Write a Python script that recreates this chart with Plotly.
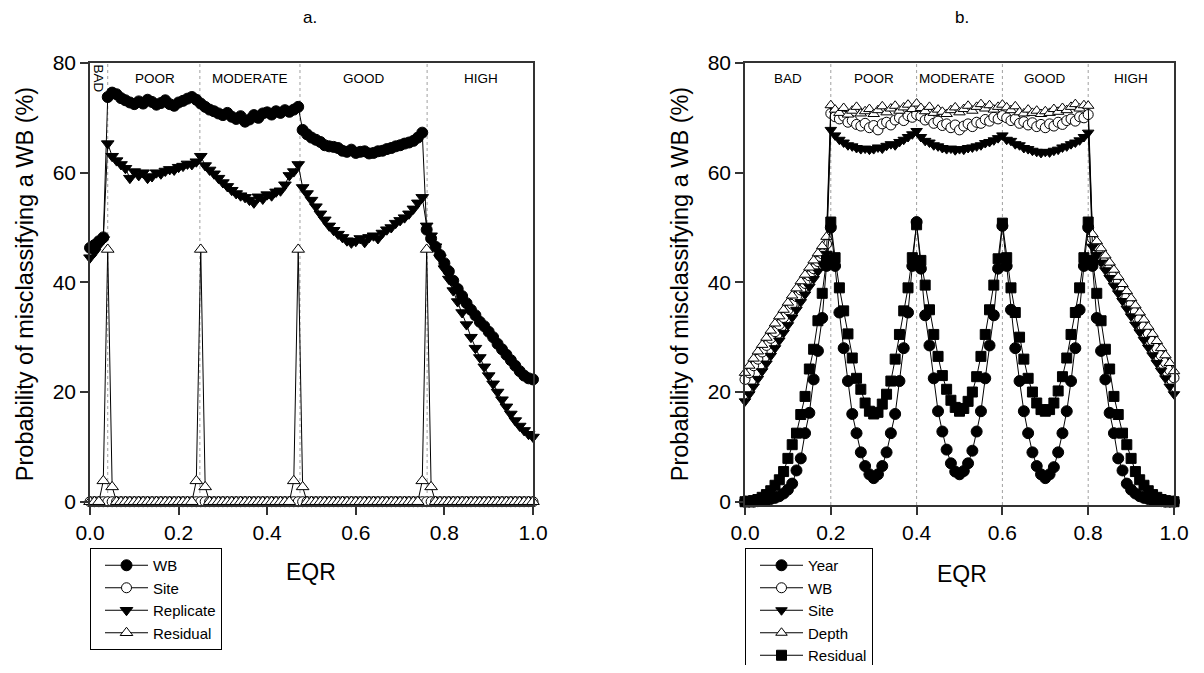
import plotly.graph_objects as go

# ---------------- data ----------------
eqr = [0.00, 0.01, 0.02, 0.03, 0.04, 0.05, 0.06, 0.07, 0.08, 0.09,
       0.10, 0.11, 0.12, 0.13, 0.14, 0.15, 0.16, 0.17, 0.18, 0.19,
       0.20, 0.21, 0.22, 0.23, 0.24, 0.25, 0.26, 0.27, 0.28, 0.29,
       0.30, 0.31, 0.32, 0.33, 0.34, 0.35, 0.36, 0.37, 0.38, 0.39,
       0.40, 0.41, 0.42, 0.43, 0.44, 0.45, 0.46, 0.47, 0.48, 0.49,
       0.50, 0.51, 0.52, 0.53, 0.54, 0.55, 0.56, 0.57, 0.58, 0.59,
       0.60, 0.61, 0.62, 0.63, 0.64, 0.65, 0.66, 0.67, 0.68, 0.69,
       0.70, 0.71, 0.72, 0.73, 0.74, 0.75, 0.76, 0.77, 0.78, 0.79,
       0.80, 0.81, 0.82, 0.83, 0.84, 0.85, 0.86, 0.87, 0.88, 0.89,
       0.90, 0.91, 0.92, 0.93, 0.94, 0.95, 0.96, 0.97, 0.98, 0.99, 1.00]

# Panel a
a_wb = [46.3, 46.8, 47.5, 48.2,
        73.8, 74.6, 74.3, 73.6, 73.2, 72.8, 72.5, 73.0, 72.6, 73.3, 72.9, 72.4, 72.7, 73.2, 72.5, 72.2, 72.8, 73.1, 73.5, 73.8, 73.3,
        72.6, 72.0, 71.5, 71.2, 70.8, 70.5, 70.9, 70.2, 69.8, 70.3, 69.3, 69.7, 70.5, 70.0, 70.8, 71.0, 70.6, 71.2, 70.9, 71.4, 71.1, 71.5, 72.0,
        67.8, 67.0, 66.4, 66.0, 65.6, 65.0, 64.8, 64.7, 64.5, 64.0, 63.8, 64.2, 63.6, 63.8, 63.9, 63.5, 63.6, 63.9, 64.0, 64.3, 64.5, 64.8, 65.0, 65.3, 65.5, 65.8, 66.4, 67.3,
        49.6, 48.0, 46.5, 45.0, 43.5, 42.0, 40.3, 38.8, 37.5, 36.2, 35.0, 34.0, 32.8, 32.0, 31.0, 30.0, 28.8, 27.8, 26.8, 25.8, 24.8, 23.8, 23.0, 22.5, 22.3]
a_site = [0, 0, 0, 0, 0, 0, 0, 0, 0, 0, 0, 0, 0, 0, 0, 0, 0, 0, 0, 0,
          0, 0, 0, 0, 0, 0, 0, 0, 0, 0, 0, 0, 0, 0, 0, 0, 0, 0, 0, 0,
          0, 0, 0, 0, 0, 0, 0, 0, 0, 0, 0, 0, 0, 0, 0, 0, 0, 0, 0, 0,
          0, 0, 0, 0, 0, 0, 0, 0, 0, 0, 0, 0, 0, 0, 0, 0, 0, 0, 0, 0,
          0, 0, 0, 0, 0, 0, 0, 0, 0, 0, 0, 0, 0, 0, 0, 0, 0, 0, 0, 0, 0]
a_replicate = [44.5, 45.5, 46.8, 47.8,
               65.3, 63.0, 62.2, 61.5, 60.8, 59.0, 60.2, 59.5, 60.0, 59.0, 59.3, 60.0, 59.8, 60.3, 60.6, 60.5, 61.0, 61.2, 61.6, 61.5, 62.0, 63.0,
               61.3, 60.5, 59.8, 59.0, 58.2, 57.5, 56.8, 56.2, 55.8, 55.5, 55.0, 54.5, 55.6, 55.2, 56.0, 55.8, 56.5, 56.7, 57.8, 59.5, 60.2, 61.5,
               57.3, 56.2, 55.0, 53.8, 52.5, 51.4, 50.3, 49.5, 48.8, 48.2, 47.6, 47.2, 47.5, 48.0, 47.3, 48.2, 48.5, 48.0, 49.0, 49.6, 50.0, 50.8, 51.3, 51.8, 52.5, 53.4, 54.5, 55.5,
               50.3, 48.5, 46.5, 44.5, 42.5, 40.6, 38.5, 36.5, 34.5, 32.3, 30.0, 28.0, 26.3, 24.6, 23.0, 21.5, 20.0, 18.6, 17.3, 16.0, 14.8, 13.8, 13.0, 12.3, 11.8]
a_residual = [0, 0, 0, 3.8, 46.0, 2.7, 0, 0, 0, 0, 0, 0, 0, 0, 0, 0, 0, 0, 0, 0,
              0, 0, 0, 0, 3.8, 46.0, 2.7, 0, 0, 0, 0, 0, 0, 0, 0, 0, 0, 0, 0, 0,
              0, 0, 0, 0, 0, 0, 3.8, 46.0, 2.7, 0, 0, 0, 0, 0, 0, 0, 0, 0, 0, 0,
              0, 0, 0, 0, 0, 0, 0, 0, 0, 0, 0, 0, 0, 0, 0, 3.8, 46.0, 2.7, 0, 0,
              0, 0, 0, 0, 0, 0, 0, 0, 0, 0, 0, 0, 0, 0, 0, 0, 0, 0, 0, 0, 0]
a_bounds = [0.04, 0.248, 0.474, 0.761]
a_classes = ["BAD", "POOR", "MODERATE", "GOOD", "HIGH"]
a_class_x = [0.019, 0.146, 0.362, 0.619, 0.882]

# Panel b
b_year = [0.0, 0.0, 0.0, 0.1, 0.2, 0.3, 0.5, 0.7, 1.0, 1.5, 2.2, 3.3, 5.7, 7.9, 12.5, 16.2, 22.3, 27.5, 33.5, 43.0,
          50.0,
          43.0, 34.5, 28.0, 22.0, 16.0, 12.5, 9.0, 6.5, 5.0, 4.3, 5.0, 6.5, 9.0, 12.5, 16.0, 22.0, 28.0, 34.5, 43.0,
          51.0,
          42.5, 34.0, 28.5, 22.5, 16.5, 12.8, 9.5, 7.0, 5.5, 5.0, 5.6, 7.0, 9.3, 12.8, 16.5, 22.5, 28.5, 34.0, 42.5,
          50.3,
          43.0, 35.0, 28.0, 22.0, 16.5, 12.5, 9.0, 6.5, 5.0, 4.3, 5.0, 6.3, 9.0, 12.5, 16.5, 22.0, 28.0, 35.0, 43.0,
          50.0,
          43.0, 33.5, 27.5, 22.3, 16.2, 12.5, 7.9, 5.7, 3.3, 2.2, 1.5, 1.0, 0.7, 0.5, 0.3, 0.2, 0.1, 0.0, 0.0, 0.0]
b_wb = [22.3, 23.5, 24.8, 26.0, 27.3, 28.5, 29.8, 31.0, 32.3, 33.6, 35.0, 36.0, 37.4, 38.6, 39.8, 41.2, 42.5, 43.8, 45.2, 47.0,
        70.8, 70.2, 69.8, 70.3, 69.2, 69.5, 68.8, 68.5, 69.0, 68.2, 68.6, 67.8, 68.9, 69.2, 68.7, 69.6, 70.0, 69.5, 70.4, 70.1, 70.6,
        70.3, 69.6, 69.9, 69.0, 69.4, 68.6, 68.9, 68.2, 68.7, 67.8, 68.5, 68.9, 68.4, 69.2, 69.0, 69.7, 69.4, 70.1, 69.8, 70.4,
        70.0, 69.5, 69.8, 69.0, 69.3, 68.7, 69.1, 68.4, 68.8, 68.2, 68.9, 68.5, 69.2, 68.8, 69.5, 69.8, 69.4, 70.2, 70.0, 70.6,
        48.0, 46.6, 45.3, 44.0, 42.6, 41.3, 40.0, 38.6, 37.3, 36.0, 34.6, 33.3, 32.0, 30.7, 29.3, 28.0, 26.7, 25.4, 24.0, 22.6]
b_site = [18.3, 19.6, 21.0, 22.4, 23.8, 25.2, 26.6, 28.0, 29.4, 30.8, 32.2, 33.6, 35.0, 36.4, 37.8, 39.2, 40.6, 42.0, 43.4, 45.2,
          67.8, 66.8, 66.0, 65.5, 65.0, 64.8, 64.5, 64.3, 64.4, 64.2, 64.3, 64.6, 64.4, 64.9, 65.2, 65.0, 65.6, 66.0, 66.5, 67.0, 67.6,
          66.5, 65.8, 65.5, 65.0, 64.8, 64.5, 64.3, 64.4, 64.1, 64.3, 64.2, 64.5, 64.6, 64.8, 65.0, 65.4, 65.6, 65.9, 66.3, 66.8,
          66.0, 65.8, 65.2, 65.0, 64.5, 64.3, 64.0, 63.8, 63.6, 63.8, 63.7, 64.0, 64.2, 64.6, 64.8, 65.2, 65.5, 65.9, 66.5, 67.3,
          46.5, 45.0, 43.6, 42.2, 40.8, 39.4, 38.0, 36.6, 35.2, 33.8, 32.3, 30.9, 29.5, 28.1, 26.7, 25.3, 23.9, 22.5, 21.0, 19.6]
b_depth = [23.5, 24.8, 26.1, 27.4, 28.6, 29.9, 31.2, 32.5, 33.8, 35.0, 36.3, 37.6, 38.9, 40.2, 41.4, 42.7, 44.0, 45.3, 46.6, 48.3,
           72.3, 71.5, 70.9, 71.8, 70.6, 71.3, 72.0, 70.8, 71.2, 71.6, 70.7, 71.4, 72.1, 71.0, 71.7, 72.2, 71.3, 71.9, 72.4, 71.6, 72.6,
           71.8, 71.2, 72.0, 70.9, 71.5, 71.1, 70.7, 71.4, 71.9, 71.0, 71.6, 72.2, 71.3, 72.0, 72.5, 71.7, 72.3, 71.5, 72.0, 72.4,
           71.9, 71.4, 72.1, 71.0, 70.8, 71.5, 70.9, 71.3, 70.7, 71.2, 70.9, 71.6, 71.1, 71.8, 71.4, 72.0, 72.5, 71.7, 72.3, 72.2,
           48.8, 47.5, 46.2, 44.9, 43.6, 42.3, 41.0, 39.7, 38.4, 37.1, 35.8, 34.5, 33.2, 31.9, 30.6, 29.3, 28.0, 26.7, 25.3, 23.8]
b_residual = [0.0, 0.1, 0.2, 0.4, 0.8, 1.3, 2.0, 3.0, 4.0, 5.5, 7.9, 10.4, 12.5, 15.9, 19.2, 24.2, 27.8, 33.0, 38.0, 44.0,
              51.0,
              44.5, 39.0, 34.8, 30.6, 26.2, 22.5, 20.5, 18.0, 16.5, 16.0, 16.3, 17.8, 19.6, 22.0, 26.0, 30.5, 34.8, 39.0, 44.5,
              50.5,
              44.0, 39.5, 35.0, 30.5, 26.5, 23.0, 20.5, 18.5, 17.2, 16.5, 17.0, 18.3, 20.0, 22.8, 26.5, 30.5, 35.0, 39.5, 44.3,
              50.8,
              44.5, 39.0, 34.5, 30.0, 26.0, 22.5, 20.0, 18.0, 16.8, 16.5, 16.8, 18.0, 20.2, 22.8, 26.2, 30.5, 34.5, 39.0, 44.5,
              51.0,
              44.0, 38.0, 33.0, 27.8, 24.2, 19.2, 15.9, 12.5, 10.4, 7.9, 5.5, 4.0, 3.0, 2.0, 1.3, 0.8, 0.4, 0.2, 0.1, 0.0]
b_bounds = [0.2, 0.4, 0.6, 0.8]
b_classes = ["BAD", "POOR", "MODERATE", "GOOD", "HIGH"]
b_class_x = [0.10, 0.30, 0.495, 0.70, 0.90]

x_ticks = [0.0, 0.2, 0.4, 0.6, 0.8, 1.0]
x_ticktext = ["0.0", "0.2", "0.4", "0.6", "0.8", "1.0"]
y_ticks = [0, 20, 40, 60, 80]
x_title = "EQR"
y_title = "Probability of misclassifying a WB (%)"

# ---------------- figure ----------------
FONT = "Liberation Sans, Arial, sans-serif"
OFF = 8                   # page body offset (px)
W, H = 1182, 657
ML, MT, PH = 90 - OFF, 63 - OFF, 442
PLOT_RIGHT = 1174 - OFF
MR = W - PLOT_RIGHT
PW = PLOT_RIGHT - ML
MB = H - MT - PH


def px_x(sx):
    """screen x (px) -> paper fraction of the plotting area"""
    return (sx - OFF - ML) / PW


def px_y(sy):
    """screen y (px) -> paper fraction of the plotting area"""
    return (MT + PH - (sy - OFF)) / PH


def cont_y(sy):
    """screen y (px) -> fraction of the whole figure height"""
    return 1 - (sy - OFF) / H


fig = go.Figure()


def add(x, y, name, symbol, filled, size, xa, ya, legend):
    fig.add_trace(go.Scatter(
        x=x, y=y, name=name, mode="lines+markers",
        line=dict(color="black", width=1),
        marker=dict(symbol=symbol, size=size,
                    color="black" if filled else "white",
                    line=dict(color="black", width=1)),
        xaxis=xa, yaxis=ya, legend=legend, cliponaxis=False))


add(eqr, a_wb, "WB", "circle", True, 11, "x", "y", "legend")
add(eqr, a_site, "Site", "circle", False, 10, "x", "y", "legend")
add(eqr, a_replicate, "Replicate", "triangle-down", True, 11, "x", "y", "legend")
add(eqr, a_residual, "Residual", "triangle-up", False, 11, "x", "y", "legend")

add(eqr, b_year, "Year", "circle", True, 11, "x2", "y2", "legend2")
add(eqr, b_wb, "WB", "circle", False, 10, "x2", "y2", "legend2")
add(eqr, b_site, "Site", "triangle-down", True, 10, "x2", "y2", "legend2")
add(eqr, b_depth, "Depth", "triangle-up", False, 10, "x2", "y2", "legend2")
add(eqr, b_residual, "Residual", "square", True, 10, "x2", "y2", "legend2")

shapes = []
for b in a_bounds:
    shapes.append(dict(type="line", xref="x", yref="y domain", x0=b, x1=b, y0=0, y1=1,
                       line=dict(color="#a0a0a0", width=1, dash="dot"), layer="below"))
for b in b_bounds:
    shapes.append(dict(type="line", xref="x2", yref="y2 domain", x0=b, x1=b, y0=0, y1=1,
                       line=dict(color="#a0a0a0", width=1, dash="dot"), layer="below"))

annotations = []
for name, cx in zip(a_classes, a_class_x):
    annotations.append(dict(xref="x", yref="y", x=cx, y=77.1, text=name, showarrow=False,
                            xanchor="center", yanchor="middle",
                            textangle=90 if name == "BAD" else 0,
                            font=dict(family=FONT, size=13.5, color="black")))
for name, cx in zip(b_classes, b_class_x):
    annotations.append(dict(xref="x2", yref="y2", x=cx, y=77.1, text=name, showarrow=False,
                            xanchor="center", yanchor="middle",
                            font=dict(family=FONT, size=13.5, color="black")))


def label(sx, sy, text, size):
    annotations.append(dict(xref="paper", yref="paper", x=px_x(sx), y=px_y(sy),
                            xanchor="center", yanchor="middle",
                            text=text, showarrow=False,
                            font=dict(family=FONT, size=size, color="black")))


label(310, 18, "a.", 17)
label(962, 18, "b.", 17)
# x-axis titles
label(311, 572, x_title, 23)
label(962, 574, x_title, 23)

axis_common = dict(showline=True, mirror=True, linecolor="#333333", linewidth=1.5,
                   ticks="outside", ticklen=8, tickwidth=1.5, tickcolor="#333333",
                   showgrid=False, zeroline=False, automargin=False,
                   tickfont=dict(family=FONT, size=21, color="black"))

xa = dict(axis_common, range=[0, 1], tickvals=x_ticks, ticktext=x_ticktext)
ya = dict(axis_common, range=[-0.6, 80], tickvals=y_ticks,
          title=dict(text=y_title, font=dict(family=FONT, size=23.5, color="black"), standoff=12))

legend_common = dict(bgcolor="white", bordercolor="black", borderwidth=1,
                     font=dict(family=FONT, size=15, color="black"),
                     xanchor="left", yanchor="top", itemwidth=43, indentation=9,
                     tracegroupgap=0, xref="paper", yref="container")

fig.update_layout(
    width=W, height=H, autosize=False,
    margin=dict(l=ML, r=MR, t=MT, b=MB, pad=0),
    paper_bgcolor="white", plot_bgcolor="white",
    font=dict(family=FONT, color="black"),
    xaxis=dict(xa, domain=[0, px_x(533)], anchor="y"),
    yaxis=dict(ya, domain=[0, 1], anchor="x"),
    xaxis2=dict(xa, domain=[px_x(745), 1], anchor="y2"),
    yaxis2=dict(ya, domain=[0, 1], anchor="x2"),
    legend=dict(legend_common, x=px_x(90), y=cont_y(548)),
    legend2=dict(legend_common, x=px_x(745), y=cont_y(548)),
    shapes=shapes, annotations=annotations,
    showlegend=True,
)

fig.write_html("out.html")
